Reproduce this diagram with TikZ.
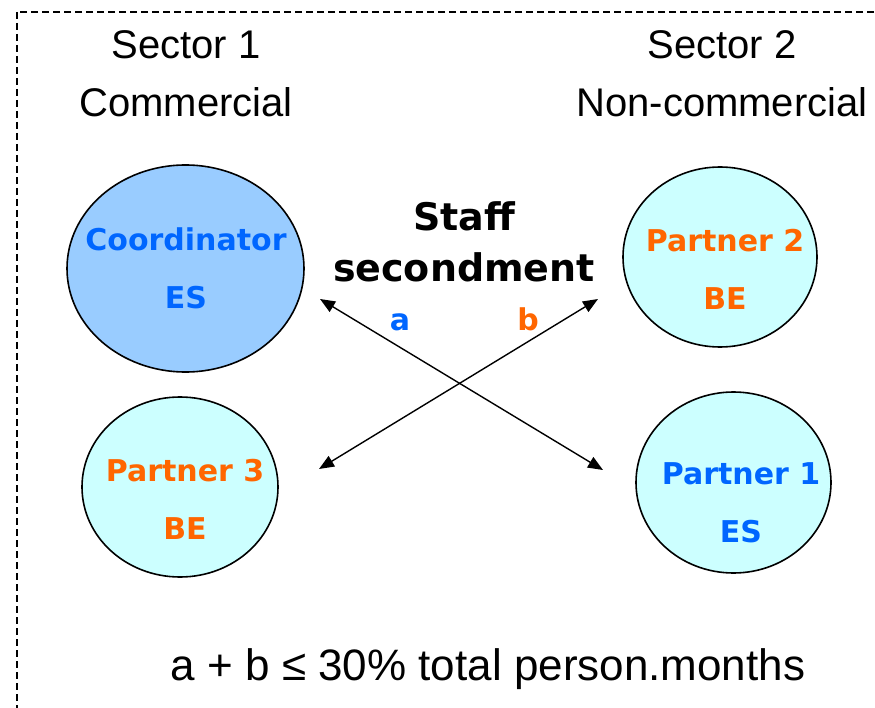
\documentclass[tikz,border=0pt]{standalone}
\usepackage{fontspec}
\setmainfont{Liberation Sans}
\newfontfamily\boldsans{DejaVu Sans}
\usetikzlibrary{shapes.geometric,arrows.meta}
\definecolor{coordblue}{HTML}{99CCFF}
\definecolor{partnercyan}{HTML}{CCFFFF}
\definecolor{esblue}{HTML}{0066FF}
\definecolor{beorange}{HTML}{FF6600}

\begin{document}
\begin{tikzpicture}[x=1pt,y=-1pt,
  org/.style={ellipse, draw, line width=1.6pt, inner sep=0pt},
  orgtext/.style={align=center, font=\boldsans\bfseries\fontsize{30}{58}\selectfont},
  sector/.style={align=center, font=\fontsize{40}{58}\selectfont},
  twoway/.style={{Triangle[length=15pt,width=12pt]}-{Triangle[length=15pt,width=12pt]}, line width=1.4pt}]
  \useasboundingbox (0,0) rectangle (875,708);
  \draw[dash pattern=on 7pt off 4pt, line width=1.1pt] (17,12) rectangle (900,740);

  % sectors
  \node[sector] (sec1) at (186,73.5) {Sector 1\\Commercial};
  \node[sector] (sec2) at (722,73.5) {Sector 2\\Non-commercial};

  % partners
  \node[org, fill=coordblue, minimum width=237pt, minimum height=207pt] (coord) at (185.5,268.5) {};
  \node[org, fill=partnercyan, minimum width=194pt, minimum height=180pt] (p2) at (720,257) {};
  \node[org, fill=partnercyan, minimum width=196pt, minimum height=180pt] (p3) at (180,487) {};
  \node[org, fill=partnercyan, minimum width=195pt, minimum height=181pt] (p1) at (733.5,482.5) {};

  \node[orgtext, text=esblue] (coordtxt) at (186,268) {Coordinator\\ES};
  \node[orgtext, text=beorange] (p2txt) at (725,269.5) {Partner 2\\BE};
  \node[orgtext, text=beorange] (p3txt) at (185,499.5) {Partner 3\\BE};
  \node[orgtext, text=esblue] (p1txt) at (741,502.5) {Partner 1\\ES};

  \node[align=center, font=\boldsans\bfseries\fontsize{38}{51}\selectfont] (staff) at (464,242) {Staff\\secondment};

  % secondment arrows
  \coordinate (a1) at (320,299);
  \coordinate (a2) at (603,470);
  \coordinate (b1) at (598,299);
  \coordinate (b2) at (319,469);
  \draw[twoway] (a1) -- (a2);
  \draw[twoway] (b2) -- (b1);
  \node[anchor=base, text=esblue, font=\boldsans\bfseries\fontsize{30}{36}\selectfont] (la) at (400,331) {a};
  \node[anchor=base, text=beorange, font=\boldsans\bfseries\fontsize{30}{36}\selectfont] (lb) at (528,331) {b};

  \node[anchor=base, font=\fontsize{44}{50}\selectfont] (limit) at (488,680) {a + b ≤ 30\% total person.months};
\end{tikzpicture}
\end{document}
